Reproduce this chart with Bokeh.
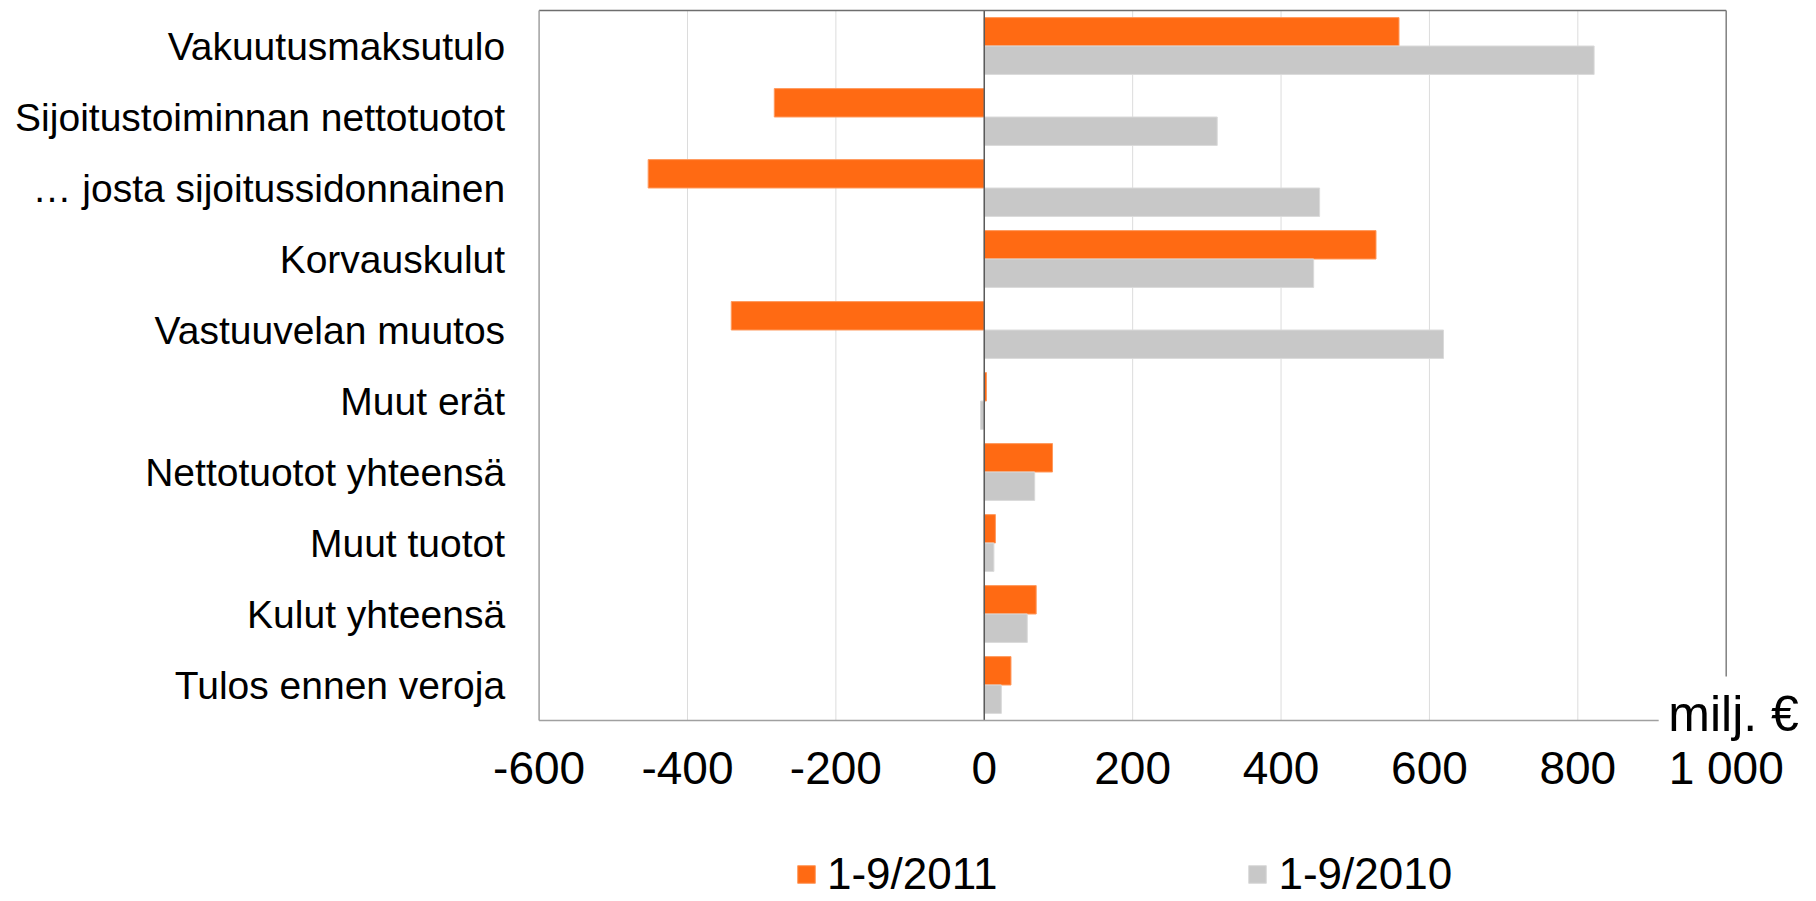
from bokeh.plotting import figure
from bokeh.models import (ColumnDataSource, Range1d, FixedTicker, Label,
                          Legend, LegendItem)
from bokeh.embed import file_html
from bokeh.resources import INLINE

categories = ["Vakuutusmaksutulo", "Sijoitustoiminnan nettotuotot", "… josta sijoitussidonnainen",
              "Korvauskulut", "Vastuuvelan muutos", "Muut erät", "Nettotuotot yhteensä",
              "Muut tuotot", "Kulut yhteensä", "Tulos ennen veroja"]
series_2011 = [559, -283, -453, 528, -341, 3, 92, 15, 70, 36]
series_2010 = [822, 314, 452, 444, 619, -5, 68, 13, 58, 23]
series_names = ["1-9/2011", "1-9/2010"]
x_ticks = [-600, -400, -200, 0, 200, 400, 600, 800, 1000]
x_tick_labels = ["-600", "-400", "-200", "0", "200", "400", "600", "800", "1 000"]
unit_label = "milj. €"

ORANGE = "#FF6A13"
GREY = "#C8C8C8"
FONT = "Liberation Sans"
N = len(categories)
centers = [N - i - 0.5 for i in range(N)]
XMIN, XMAX = x_ticks[0], x_ticks[-1]

# layout: the plotting box spans -600..1000 horizontally and 0..N vertically,
# the frame is the whole canvas so that texts around the box are never clipped
W, H = 1816, 900
BOX_L, BOX_R, BOX_T, BOX_B = 538.6, 1725.7, 10.0, 720.0
sx = (BOX_R - BOX_L) / (XMAX - XMIN)
sy = (BOX_B - BOX_T) / N
x_range = Range1d(XMIN - BOX_L / sx, XMAX + (W - BOX_R) / sx)
y_range = Range1d(-(H - BOX_B) / sy, N + BOX_T / sy)

src = ColumnDataSource(dict(ya=[c + 0.2 for c in centers], yb=[c - 0.2 for c in centers],
                            a=series_2011, b=series_2010))

p = figure(width=W, height=H, output_backend="svg", toolbar_location=None,
           x_range=x_range, y_range=y_range, min_border=0)
p.outline_line_color = None
p.xgrid.visible = False
p.ygrid.visible = False

# vertical grid lines inside the box
grid_x = x_ticks[1:-1]
p.segment(x0=grid_x, y0=[0] * len(grid_x), x1=grid_x, y1=[N] * len(grid_x),
          line_color="#DCDCDC", line_width=1)

r1 = p.hbar(y="ya", right="a", left=0, height=0.4, source=src,
            fill_color=ORANGE, line_color="#FF9A5E", line_width=1)
r2 = p.hbar(y="yb", right="b", left=0, height=0.4, source=src,
            fill_color=GREY, line_color="#DADADA", line_width=1)

# zero line
p.segment(x0=[0], y0=[0], x1=[0], y1=[N], line_color="#5A5A5A", line_width=1.5)

# box borders: top, left, right (partial), bottom (partial)
p.segment(x0=[XMIN, XMIN, XMAX, XMIN], y0=[N, 0, 0.62, 0],
          x1=[XMAX, XMIN, XMAX, 909], y1=[N, N, N, 0],
          line_color=["#6E6E6E", "#A0A0A0", "#808080", "#A0A0A0"], line_width=1.5)

# x axis fixed at y = 0
p.xaxis.fixed_location = 0
p.xaxis.ticker = FixedTicker(ticks=x_ticks)
p.xaxis.major_label_overrides = {t: l for t, l in zip(x_ticks, x_tick_labels)}
p.xaxis.axis_line_color = None
p.xaxis.major_tick_line_color = None
p.xaxis.minor_tick_line_color = None
p.xaxis.major_tick_out = 0
p.xaxis.major_tick_in = 0
p.xaxis.major_label_standoff = 21
p.xaxis.major_label_text_font = FONT
p.xaxis.major_label_text_font_size = "46px"
p.xaxis.major_label_text_color = "black"

# y axis fixed at x = -600 with category labels
p.yaxis.fixed_location = XMIN
p.yaxis.ticker = FixedTicker(ticks=centers)
p.yaxis.major_label_overrides = {c: name for c, name in zip(centers, categories)}
p.yaxis.axis_line_color = None
p.yaxis.major_tick_line_color = None
p.yaxis.minor_tick_line_color = None
p.yaxis.major_tick_out = 0
p.yaxis.major_tick_in = 0
p.yaxis.major_label_standoff = 34
p.yaxis.major_label_text_font = FONT
p.yaxis.major_label_text_font_size = "39px"
p.yaxis.major_label_text_color = "black"

# unit label at the bottom-right corner of the box
p.add_layout(Label(x=922, y=0.085, text=unit_label, text_font=FONT, text_font_size="50px",
                   text_color="black", text_baseline="middle"))

legend = Legend(items=[LegendItem(label=series_names[0], renderers=[r1]),
                       LegendItem(label=series_names[1], renderers=[r2])],
                orientation="horizontal", location=(795, 1),
                glyph_width=22, glyph_height=22, label_standoff=10, spacing=249,
                padding=0, margin=0, border_line_color=None, background_fill_alpha=0,
                label_text_font=FONT, label_text_font_size="44px", label_text_color="black")
p.add_layout(legend, "center")

open("out.html", "w").write(file_html(p, INLINE))
